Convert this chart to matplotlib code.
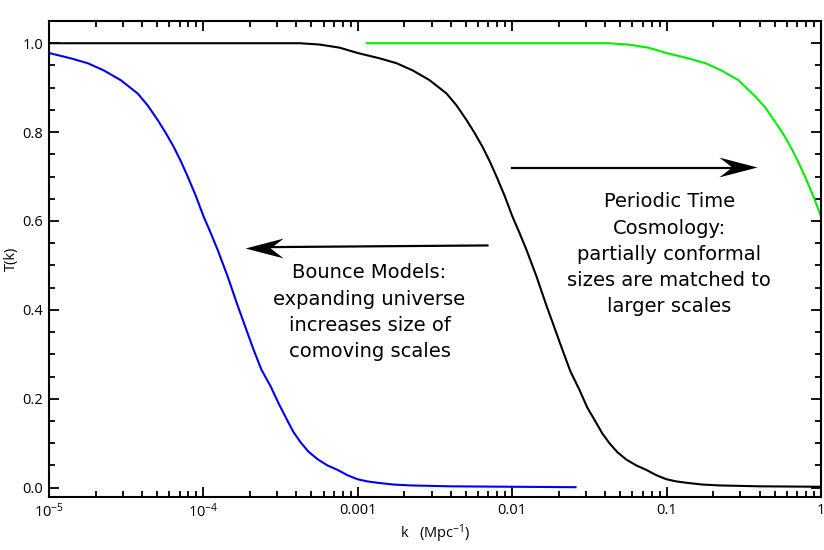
import matplotlib
matplotlib.use('Agg')
import matplotlib.pyplot as plt
from matplotlib.path import Path
from matplotlib.ticker import FixedLocator, MultipleLocator, LogLocator, NullFormatter

plt.rcParams['mathtext.default'] = 'regular'

# curves: log10(k / Mpc^-1) and T(k)
black_logk = [-5.0, -3.376, -3.247, -3.118, -3.001, -2.859, -2.749, -2.646, -2.536, -2.426,
              -2.361, -2.296, -2.244, -2.193, -2.147, -2.102, -2.050, -1.999, -1.953, -1.908,
              -1.843, -1.779, -1.727, -1.675, -1.624, -1.565, -1.514, -1.455, -1.417, -1.371,
              -1.320, -1.261, -1.197, -1.132, -1.067, -1.003, -0.938, -0.873, -0.770, -0.660,
              -0.401, 0.0]
black_T = [1.0, 1.0, 0.997, 0.99, 0.978, 0.966, 0.955, 0.939, 0.917, 0.887,
           0.860, 0.827, 0.798, 0.767, 0.735, 0.70, 0.657, 0.61, 0.573, 0.535,
           0.475, 0.41, 0.36, 0.31, 0.262, 0.22, 0.18, 0.145, 0.122, 0.10,
           0.08, 0.063, 0.05, 0.04, 0.028, 0.019, 0.014, 0.011, 0.007, 0.005,
           0.003, 0.002]

blue_logk = [-5.0, -4.859, -4.749, -4.646, -4.536, -4.426, -4.361, -4.296, -4.244, -4.193,
             -4.147, -4.102, -4.050, -3.999, -3.953, -3.908, -3.843, -3.779, -3.727, -3.675,
             -3.624, -3.565, -3.514, -3.455, -3.417, -3.371, -3.320, -3.261, -3.197, -3.132,
             -3.067, -3.003, -2.938, -2.873, -2.770, -2.660, -2.401, -2.0, -1.59]
blue_T = [0.978, 0.966, 0.955, 0.939, 0.917, 0.887, 0.860, 0.827, 0.798, 0.767,
          0.735, 0.70, 0.657, 0.61, 0.573, 0.535, 0.475, 0.41, 0.36, 0.31,
          0.265, 0.228, 0.19, 0.15, 0.125, 0.102, 0.081, 0.064, 0.05, 0.04,
          0.028, 0.019, 0.014, 0.011, 0.007, 0.005, 0.003, 0.002, 0.001]

green_logk = [-2.943, -1.376, -1.247, -1.118, -1.001, -0.859, -0.749, -0.646, -0.536, -0.426,
              -0.361, -0.296, -0.244, -0.193, -0.147, -0.102, -0.050, 0.0]
green_T = [1.0, 1.0, 0.997, 0.99, 0.978, 0.966, 0.955, 0.939, 0.917, 0.880,
           0.855, 0.822, 0.795, 0.764, 0.732, 0.698, 0.655, 0.61]

xtick_vals = [1e-5, 1e-4, 1e-3, 1e-2, 1e-1, 1]
xtick_labels = ['10$^{-5}$', '10$^{-4}$', '0.001', '0.01', '0.1', '1']
ytick_vals = [0.0, 0.2, 0.4, 0.6, 0.8, 1.0]

fig = plt.figure(figsize=(8.24, 5.5), dpi=100)
ax = fig.add_axes([0.0595, 0.0964, 0.937, 0.8654])

ax.plot([10 ** v for v in black_logk], black_T, color='black', lw=1.5)
ax.plot([10 ** v for v in blue_logk], blue_T, color='#0000ee', lw=1.5)
ax.plot([10 ** v for v in green_logk], green_T, color='#00ee00', lw=1.5)

ax.set_xscale('log')
ax.set_xlim(1e-5, 1)
ax.set_ylim(-0.021, 1.05)

ax.xaxis.set_major_locator(FixedLocator(xtick_vals))
ax.set_xticklabels(xtick_labels, fontsize=10.5, family='Open Sans')
ax.xaxis.set_minor_locator(LogLocator(base=10, subs=range(2, 10), numticks=20))
ax.xaxis.set_minor_formatter(NullFormatter())
ax.set_yticks(ytick_vals)
ax.set_yticklabels(['%.1f' % v for v in ytick_vals], fontsize=10.5, family='Open Sans')
ax.yaxis.set_minor_locator(MultipleLocator(0.05))

ax.tick_params(which='both', direction='in', top=True, right=True, width=1.3, pad=4)
ax.tick_params(which='major', length=7)
ax.tick_params(which='minor', length=4)
for s in ax.spines.values():
    s.set_linewidth(1.5)

ax.set_xlabel('k   (Mpc$^{-1}$)', fontsize=10.5, family='Open Sans', labelpad=1)
ax.set_ylabel('T(k)', fontsize=10.5, family='Open Sans', labelpad=3)

# stealth-style arrow heads, tip at the path origin
head_left = Path([(0, 0), (1, 0.26), (0.66, 0), (1, -0.26), (0, 0)],
                 [Path.MOVETO, Path.LINETO, Path.LINETO, Path.LINETO, Path.CLOSEPOLY])
head_right = Path([(0, 0), (-1, 0.26), (-0.66, 0), (-1, -0.26), (0, 0)],
                  [Path.MOVETO, Path.LINETO, Path.LINETO, Path.LINETO, Path.CLOSEPOLY])

ax.plot([6.9e-3, 2.2e-4], [0.545, 0.541], color='black', lw=1.6)
ax.plot([1.85e-4], [0.540], marker=head_left, ms=55, color='black', mew=0, zorder=5)
ax.plot([9.9e-3, 0.3], [0.72, 0.72], color='black', lw=1.6)
ax.plot([0.385], [0.721], marker=head_right, ms=55, color='black', mew=0, zorder=5)

ax.text(1.19e-3, 0.395, 'Bounce Models:\nexpanding universe\nincreases size of\ncomoving scales',
        ha='center', va='center', fontsize=14, linespacing=1.48)
ax.text(0.104, 0.525, 'Periodic Time\nCosmology:\npartially conformal\nsizes are matched to\nlarger scales',
        ha='center', va='center', fontsize=14, linespacing=1.48)

fig.savefig('out.png', dpi=100)
